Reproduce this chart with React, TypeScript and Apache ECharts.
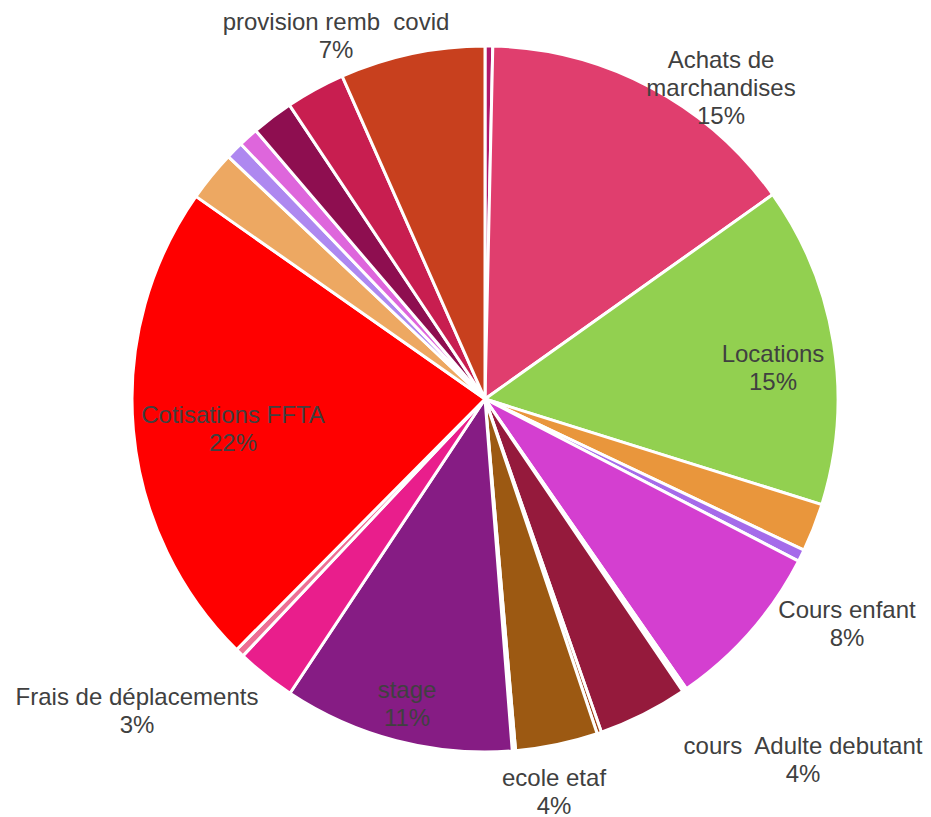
import React, { useEffect, useRef } from "react";
import * as echarts from "echarts";

const categories = [
  "Poste 1",
  "Achats de marchandises",
  "Locations",
  "Poste 2",
  "Poste 3",
  "Cours enfant",
  "Poste 4",
  "cours  Adulte debutant",
  "Poste 5",
  "ecole etaf",
  "Poste 6",
  "stage",
  "Frais de déplacements",
  "Poste 7",
  "Cotisations FFTA",
  "Poste 8",
  "Poste 9",
  "Poste 10",
  "Poste 11",
  "Poste 12",
  "provision remb  covid",
];

const values = [
  0.35, 14.75, 14.6, 2.2, 0.55, 7.7, 0.2, 4.1, 0.2, 3.75, 0.15, 10.5, 2.7, 0.4,
  22.2, 2.3, 0.8, 0.9, 1.9, 2.7, 6.6,
];

const palette = [
  "#B0176C", "#E03E6E", "#92D050", "#E9963C", "#A56BEA", "#D43FD0", "#FFFFFF",
  "#951A3C", "#9C3C10", "#9C5912", "#FFFFFF", "#861C84", "#E91E8C", "#EE6E94",
  "#FF0000", "#EDA862", "#AE88F0", "#DE66DC", "#8E0E50", "#C81E50", "#C8401E",
];

const labelNames = [
  "Achats de\nmarchandises",
  "Locations",
  "Cours enfant",
  "cours  Adulte debutant",
  "ecole etaf",
  "stage",
  "Frais de déplacements",
  "Cotisations FFTA",
  "provision remb  covid",
];
const labelPcts = ["15%", "15%", "8%", "4%", "4%", "11%", "3%", "22%", "7%"];

const labelPos: [number, number][] = [
  [721, 87],
  [773, 367],
  [847, 623],
  [803, 759],
  [554, 791],
  [407, 703],
  [137, 710],
  [233, 428],
  [336, 35],
];

export default function App() {
  const ref = useRef<HTMLDivElement>(null);
  useEffect(() => {
    if (!ref.current) return;
    const chart = echarts.init(ref.current, null, { renderer: "svg" });
    const data = categories.map((c, i) => ({
      name: c,
      value: values[i],
      itemStyle: { color: palette[i] },
    }));
    chart.setOption({
      animation: false,
      backgroundColor: "#FFFFFF",
      series: [
        {
          type: "pie",
          center: [485, 399],
          radius: [0, 353],
          startAngle: 90,
          clockwise: true,
          avoidLabelOverlap: false,
          label: { show: false },
          labelLine: { show: false },
          emphasis: { disabled: true },
          itemStyle: { borderColor: "#FFFFFF", borderWidth: 3 },
          data,
        },
      ],
      graphic: labelNames.map((n, i) => ({
        type: "text",
        z: 100,
        zlevel: 1,
        x: labelPos[i][0],
        y: labelPos[i][1],
        style: {
          text: n + "\n" + labelPcts[i],
          fill: "#404040",
          font: "24px 'Liberation Sans', Arial, sans-serif",
          lineHeight: 28,
          align: "center",
          verticalAlign: "middle",
        },
      })),
    });
    return () => chart.dispose();
  }, []);
  return (
    <div
      ref={ref}
      style={{ position: "fixed", left: 0, top: 0, width: 931, height: 817 }}
    />
  );
}
